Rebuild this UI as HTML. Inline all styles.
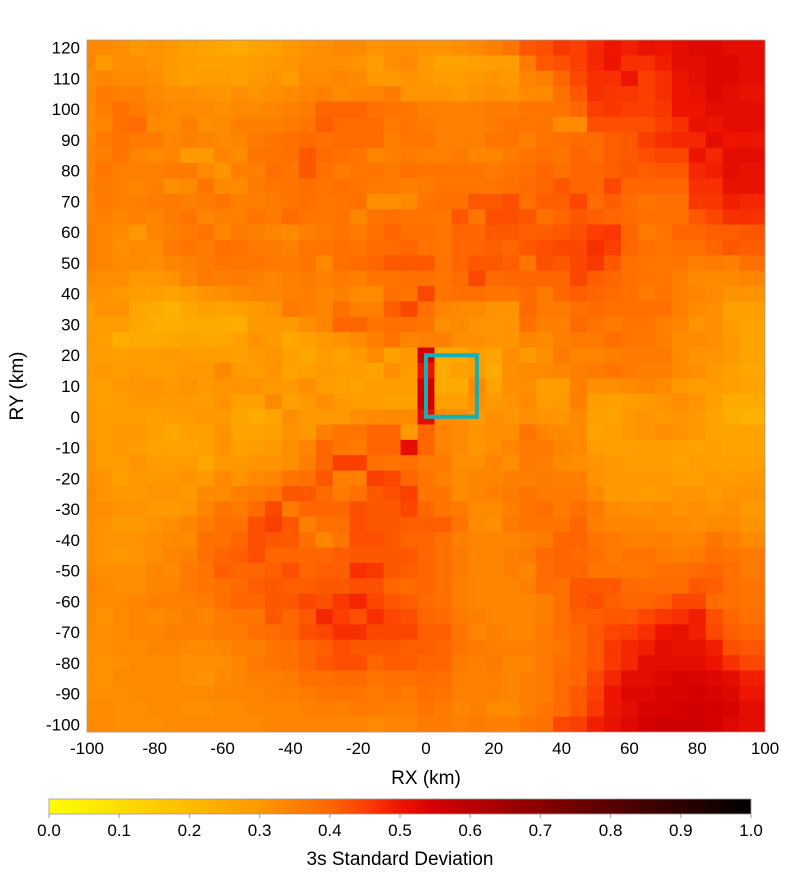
<!DOCTYPE html>
<html><head><meta charset="utf-8">
<style>
html,body{margin:0;padding:0;background:#fff;}
svg{display:block;font-family:"Liberation Sans","DejaVu Sans",sans-serif;}
</style></head>
<body>
<svg id="chart" width="800" height="878" viewBox="0 0 800 878" xmlns="http://www.w3.org/2000/svg">
<defs>
<linearGradient id="cmap" x1="0" x2="1" y1="0" y2="0">
<stop offset="0" stop-color="#ffff00"/><stop offset="0.1" stop-color="#ffdd00"/><stop offset="0.2" stop-color="#ffbb00"/>
<stop offset="0.3" stop-color="#ff9900"/><stop offset="0.4" stop-color="#ff6600"/><stop offset="0.47" stop-color="#f83000"/>
<stop offset="0.5" stop-color="#ee1500"/><stop offset="0.55" stop-color="#d40000"/><stop offset="0.65" stop-color="#a00000"/>
<stop offset="0.8" stop-color="#580000"/><stop offset="1" stop-color="#000000"/>
</linearGradient>
<clipPath id="plotclip"><rect x="87" y="40" width="678" height="692"/></clipPath>
</defs>
<g id="cells" clip-path="url(#plotclip)"></g>
<g id="axes"></g>
</svg>
<script>
const xCenters = [];
for (let i = 0; i < 41; i++) xCenters.push(-100 + 5 * i);
const yCenters = [];
for (let j = 0; j < 45; j++) yCenters.push(120 - 5 * j);
const xTicks = [-100,-80,-60,-40,-20,0,20,40,60,80,100];
const yTicks = [120,110,100,90,80,70,60,50,40,30,20,10,0,-10,-20,-30,-40,-50,-60,-70,-80,-90,-100];
const cbTicks = [0.0,0.1,0.2,0.3,0.4,0.5,0.6,0.7,0.8,0.9,1.0];
const boxRegion = [0, 15, 0, 20];
// values in hundredths, rows from y=120 (top) to y=-100 (bottom), cols x=-100..100
const Z = [
[33,33,32,30,31,30,28,27,26,25,27,28,30,31,32,33,33,31,32,32,31,31,32,33,35,37,42,43,46,45,48,50,49,51,50,52,53,53,52,52,52],
[34,30,32,32,31,30,29,28,28,28,29,30,31,32,32,32,31,29,32,33,30,27,27,28,29,29,36,42,43,45,48,50,47,47,49,52,52,53,53,52,52],
[33,34,33,33,32,30,28,29,29,28,30,31,29,33,33,34,33,30,30,31,30,29,29,30,31,30,34,35,40,44,47,47,50,45,47,50,52,53,53,52,52],
[33,36,35,35,33,32,32,31,31,32,31,32,33,34,35,33,34,34,36,31,31,31,30,31,32,31,33,33,38,42,47,46,46,45,47,50,51,53,52,51,51],
[33,35,38,36,34,33,33,33,32,33,33,34,35,36,40,40,40,38,37,37,35,35,35,35,36,36,37,37,37,40,45,46,45,45,46,50,50,52,52,52,52],
[33,34,38,39,33,33,35,32,33,35,35,35,36,37,41,39,39,39,36,37,36,35,35,35,36,37,37,37,33,33,43,43,43,43,45,47,51,50,52,52,52],
[33,36,37,36,36,34,35,34,33,34,36,37,38,39,38,39,39,39,35,37,37,35,35,35,37,37,35,37,38,39,39,41,42,45,47,48,48,52,50,50,50],
[34,35,37,34,33,34,30,30,34,33,37,37,38,42,39,38,37,34,35,36,35,35,36,34,34,36,37,38,37,40,39,41,42,43,44,44,50,48,52,52,52],
[34,37,35,35,35,36,36,33,31,35,35,38,37,42,38,36,37,37,36,38,37,37,37,37,36,37,38,40,38,40,40,41,42,41,42,42,48,49,52,51,51],
[35,36,35,34,35,32,33,37,33,33,36,37,37,38,37,38,37,36,36,35,36,37,37,37,37,38,39,40,42,40,40,44,40,40,40,40,47,47,51,51,51],
[34,36,35,35,36,36,35,36,37,35,35,36,37,38,37,37,38,32,32,33,37,38,38,42,42,43,38,41,41,44,39,41,39,37,38,38,46,46,49,48,48],
[34,35,34,35,34,36,37,34,35,35,37,36,39,37,37,37,34,37,38,37,37,37,42,37,43,43,42,38,40,42,41,40,39,38,38,38,42,44,47,47,47],
[35,34,33,30,34,35,36,37,34,36,35,34,33,35,36,37,36,38,40,38,38,37,40,40,42,42,41,41,42,43,45,46,40,36,37,40,40,41,41,42,42],
[35,34,32,33,33,36,37,36,38,37,36,36,35,37,37,38,37,39,39,40,37,37,40,40,41,40,42,43,44,44,47,45,40,38,37,38,38,40,42,41,41],
[35,34,33,33,32,34,35,36,37,37,37,36,36,37,33,38,39,40,42,42,42,37,40,42,42,41,37,43,42,44,46,42,38,37,37,37,35,36,35,38,38],
[33,32,32,30,30,31,34,36,35,36,35,34,35,36,35,36,35,37,37,38,38,37,39,44,39,40,40,40,40,44,41,40,38,37,37,35,33,33,33,34,34],
[31,31,30,29,28,27,29,31,32,33,34,34,35,35,34,35,33,33,38,37,44,37,38,38,37,37,39,36,40,41,40,39,38,36,37,35,34,33,31,31,31],
[29,31,31,26,25,23,26,28,27,28,30,31,36,35,34,38,35,35,41,44,38,34,33,33,31,31,39,36,36,38,39,38,38,38,38,35,33,32,28,28,28],
[29,29,29,26,24,24,25,25,25,24,30,30,30,32,34,40,40,37,38,38,37,32,33,31,31,31,38,35,35,39,37,36,37,37,35,34,31,32,29,27,27],
[30,28,24,25,25,26,27,26,26,28,31,30,26,28,30,31,33,35,37,34,35,35,32,32,31,31,34,33,35,36,36,38,37,37,35,33,33,32,30,27,27],
[29,29,28,29,29,30,29,29,29,28,30,31,28,26,29,27,30,33,28,30,55,25,26,29,27,32,30,32,36,34,34,35,36,36,36,33,31,31,30,27,27],
[30,30,29,30,29,29,30,30,33,30,29,31,27,28,30,29,29,27,32,29,50,25,28,29,25,32,33,33,34,35,36,37,36,35,35,33,32,30,28,26,26],
[29,28,30,31,31,30,31,30,31,31,31,30,30,32,29,28,27,29,29,29,55,25,25,33,27,32,32,29,29,35,32,32,33,34,33,30,29,29,28,27,27],
[30,28,29,30,30,30,30,29,31,28,28,33,28,30,32,30,29,29,28,28,55,28,28,32,30,31,33,29,30,35,29,28,29,30,31,32,31,28,25,25,25],
[30,29,29,29,28,29,29,30,30,27,25,27,32,30,30,30,32,33,33,33,52,33,32,30,32,31,32,31,31,33,28,27,30,31,30,31,30,27,24,23,23],
[30,29,30,30,28,26,28,28,31,27,27,28,31,30,35,37,37,40,40,30,40,34,33,31,32,32,37,34,33,33,27,28,30,31,32,31,30,27,27,27,27],
[31,29,30,29,27,27,27,28,31,28,29,30,32,34,40,37,36,40,40,52,40,34,33,31,32,34,36,36,34,33,29,28,28,29,29,28,27,28,27,27,27],
[31,29,29,31,29,29,29,26,30,30,31,31,32,35,40,45,45,38,37,38,36,36,32,32,34,32,36,35,33,32,31,30,29,29,29,27,29,28,28,28,28],
[32,31,28,30,30,30,31,30,33,31,33,34,37,38,42,35,35,45,44,40,37,35,33,34,34,35,35,36,35,35,31,30,30,30,30,29,28,30,29,30,30],
[33,31,30,30,31,31,30,33,33,35,36,37,42,42,39,36,38,42,43,45,37,37,33,34,35,36,37,36,36,36,33,30,30,29,30,31,31,29,31,31,31],
[33,32,31,31,30,30,31,34,37,36,39,44,36,40,40,40,43,42,42,44,40,37,36,33,33,35,37,38,36,38,36,33,32,32,33,31,32,31,32,30,30],
[32,31,30,30,31,32,34,36,38,38,43,45,42,35,38,38,43,42,42,41,41,41,37,33,32,36,37,37,37,40,35,34,34,34,33,33,32,33,33,31,31],
[32,31,31,31,32,33,33,38,38,40,43,42,42,38,34,37,43,43,42,40,40,38,35,34,34,34,35,36,40,40,37,36,35,35,35,34,34,37,35,33,33],
[32,31,30,31,32,34,35,38,40,41,43,40,40,40,40,41,42,42,42,42,40,38,36,34,34,35,36,39,40,39,38,36,37,37,36,35,36,38,37,36,36],
[33,32,32,32,34,33,36,37,41,40,40,41,43,40,41,41,47,46,42,41,40,38,36,34,34,35,34,39,40,40,37,37,37,37,38,38,39,40,38,36,36],
[34,33,32,32,34,34,36,37,38,39,41,42,41,41,42,42,43,43,40,39,40,38,35,34,34,34,35,39,38,42,42,42,39,39,39,39,42,41,38,37,37],
[33,33,33,34,35,35,35,36,38,40,40,42,42,44,43,46,48,44,42,41,39,38,35,34,34,34,34,35,38,42,43,41,40,40,41,44,44,39,38,37,37],
[33,31,33,34,33,34,35,34,36,37,37,42,40,42,48,45,43,47,44,43,40,39,36,35,34,34,34,35,38,41,41,42,42,44,46,47,49,43,40,38,38],
[33,32,33,34,34,35,35,35,36,36,38,39,40,43,44,47,47,44,44,44,41,41,37,34,35,34,34,36,38,40,42,44,45,47,50,51,49,44,41,40,40],
[32,32,33,33,34,34,33,33,34,35,35,37,38,40,41,43,42,42,42,41,41,40,37,36,35,35,35,36,37,40,42,46,48,49,52,51,51,49,43,42,42],
[32,31,32,33,33,33,32,32,32,34,36,37,38,40,42,43,43,40,41,41,40,40,36,35,36,34,34,36,38,40,42,46,48,52,52,52,52,50,47,44,44],
[32,31,33,33,33,33,32,31,33,34,35,35,36,38,38,39,39,37,38,38,39,38,35,35,35,34,35,36,39,40,44,48,52,52,53,54,54,53,52,49,49],
[32,32,32,33,33,33,33,33,34,34,34,35,35,36,37,37,37,36,37,36,38,37,35,35,35,34,35,36,39,42,45,50,53,53,54,54,55,54,53,50,50],
[33,33,32,32,33,33,32,32,33,33,34,34,34,35,35,35,36,36,35,35,37,36,34,35,33,33,35,37,39,42,46,50,52,54,54,55,56,55,54,52,52],
[33,33,32,32,32,33,33,33,33,33,33,34,34,34,34,34,34,33,34,34,36,36,35,36,35,35,37,38,44,45,49,51,53,55,56,56,56,55,53,52,52]
];
</script>
<script>
const NS = "http://www.w3.org/2000/svg";
const PX0 = 87, PX1 = 765, PY0 = 40, PY1 = 732;
const XMIN = -100, XMAX = 100, YMIN = -102.5, YMAX = 122.5;
function xs(v){ return PX0 + (v - XMIN) / (XMAX - XMIN) * (PX1 - PX0); }
function ys(v){ return PY0 + (YMAX - v) / (YMAX - YMIN) * (PY1 - PY0); }
const CB0 = 49, CB1 = 751, CBY = 799, CBH = 15;
function cs(v){ return CB0 + v * (CB1 - CB0); }
const stops = [[0,[255,255,0]],[0.1,[255,221,0]],[0.2,[255,187,0]],[0.3,[255,153,0]],[0.4,[255,102,0]],[0.47,[248,48,0]],[0.5,[238,21,0]],[0.55,[212,0,0]],[0.65,[160,0,0]],[0.8,[88,0,0]],[1,[0,0,0]]];
function color(v){
  v = Math.max(0, Math.min(1, v));
  for (let k = 1; k < stops.length; k++) {
    if (v <= stops[k][0]) {
      const a = stops[k-1], b = stops[k], t = (v - a[0]) / (b[0] - a[0]);
      const c = a[1].map((q, i) => Math.round(q + (b[1][i] - q) * t));
      return "rgb(" + c.join(",") + ")";
    }
  }
  return "#000";
}
function mk(tag, attrs, parent){
  const e = document.createElementNS(NS, tag);
  for (const k in attrs) e.setAttribute(k, attrs[k]);
  parent.appendChild(e);
  return e;
}
const cells = document.getElementById("cells");
for (let j = 0; j < yCenters.length; j++) {
  for (let i = 0; i < xCenters.length; i++) {
    const x0 = xs(xCenters[i] - 2.5), x1 = xs(xCenters[i] + 2.5);
    const y0 = ys(yCenters[j] + 2.5), y1 = ys(yCenters[j] - 2.5);
    const r = mk("rect", {x: x0, y: y0, width: x1 - x0 + 0.6, height: y1 - y0 + 0.6, fill: color(Z[j][i] / 100)}, cells);
    
    
  }
}
const axes = document.getElementById("axes");
const frame = mk("rect", {x: PX0, y: PY0, width: PX1 - PX0, height: PY1 - PY0, fill: "none", stroke: "#999", "stroke-width": 0.8}, axes);


const box = mk("rect", {x: xs(boxRegion[0]), y: ys(boxRegion[3]), width: xs(boxRegion[1]) - xs(boxRegion[0]), height: ys(boxRegion[2]) - ys(boxRegion[3]), fill: "none", stroke: "#12b0b8", "stroke-width": 4}, axes);


xTicks.forEach(t => {
  const tx = mk("text", {x: xs(t), y: 754, "text-anchor": "middle", "font-size": 17, fill: "#000"}, axes);
  tx.textContent = String(t);
  
  
});
yTicks.forEach(t => {
  const tx = mk("text", {x: 80, y: ys(t) + 6, "text-anchor": "end", "font-size": 17, fill: "#000"}, axes);
  tx.textContent = String(t);
  
  
});
const xl = mk("text", {x: 426, y: 784, "text-anchor": "middle", "font-size": 19, fill: "#000"}, axes);
xl.textContent = "RX (km)";


const yl = mk("text", {x: 0, y: 0, "text-anchor": "middle", "font-size": 19, fill: "#000", transform: "translate(23,386) rotate(-90)"}, axes);
yl.textContent = "RY (km)";


const cb = mk("rect", {x: CB0, y: CBY, width: CB1 - CB0, height: CBH, fill: "url(#cmap)", stroke: "#999", "stroke-width": 0.8}, axes);


cbTicks.forEach(t => {
  const ln = mk("line", {x1: cs(t), x2: cs(t), y1: CBY + CBH, y2: CBY + CBH + 4, stroke: "#999", "stroke-width": 1}, axes);
  
  
  const tx = mk("text", {x: cs(t), y: 836, "text-anchor": "middle", "font-size": 17, fill: "#000"}, axes);
  tx.textContent = t.toFixed(1);
  
  
});
const ct = mk("text", {x: 400, y: 865, "text-anchor": "middle", "font-size": 19, fill: "#000"}, axes);
ct.textContent = "3s Standard Deviation";


</script>
</body></html>
